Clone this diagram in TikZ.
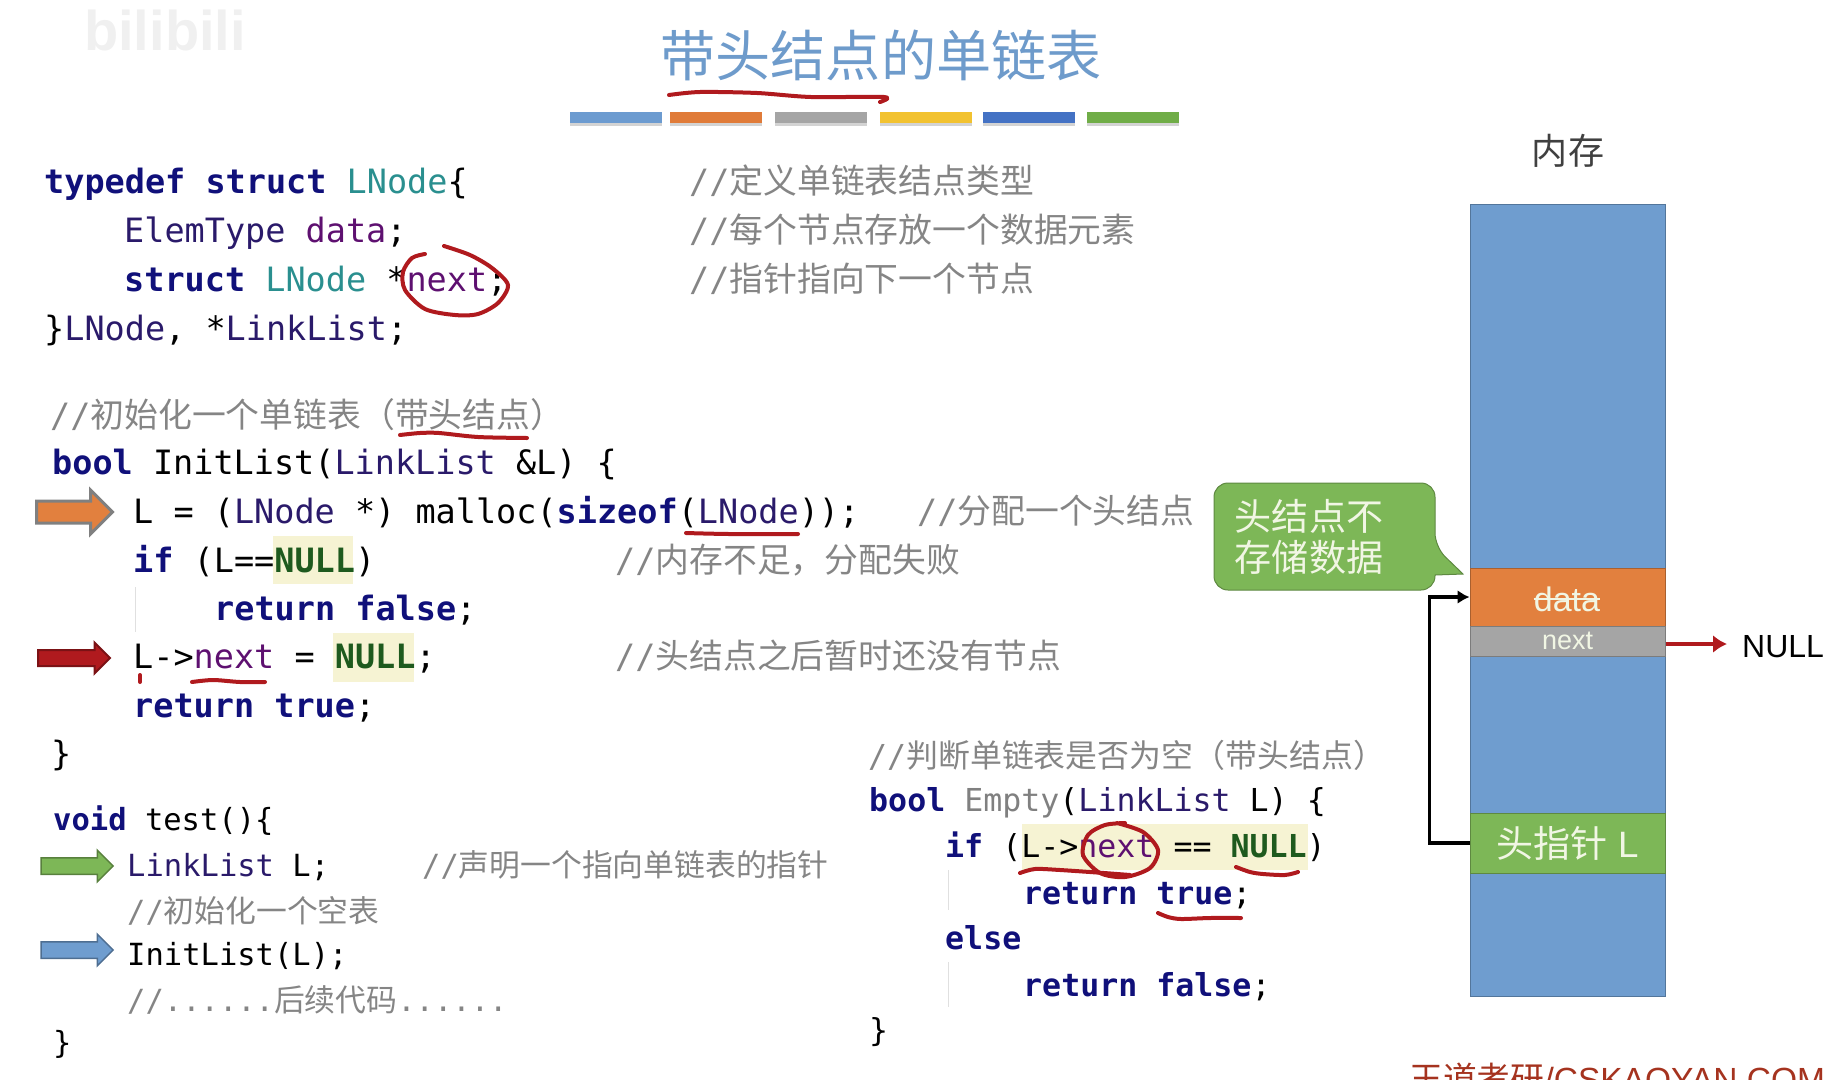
\documentclass[tikz,border=0pt]{standalone}
\usepackage{fontspec}
\setmainfont{Liberation Sans}
\setmonofont{DejaVu Sans Mono}
\newfontfamily\cjkfont[Scale=1.01]{Noto Sans CJK SC}
\usetikzlibrary{arrows.meta,shapes.arrows,shadows}
\definecolor{kwblue}{HTML}{10107A}
\definecolor{tyteal}{HTML}{2A8F8F}
\definecolor{typurple}{HTML}{2A1A6A}
\definecolor{fdpurple}{HTML}{5E1070}
\definecolor{nulgreen}{HTML}{1E5A1E}
\definecolor{cmtgray}{HTML}{858585}
\definecolor{hilite}{HTML}{F6F3D3}
\definecolor{pen}{HTML}{B01A1E}
\definecolor{membl}{HTML}{6F9DCF}
\definecolor{memor}{HTML}{E2803E}
\definecolor{memgr}{HTML}{A5A5A5}
\definecolor{memgn}{HTML}{7DB757}
\definecolor{cream}{HTML}{F1F6E4}
\newcommand{\kw}[1]{{\bfseries\color{kwblue}#1}}
\newcommand{\tyt}[1]{{\color{tyteal}#1}}
\newcommand{\typ}[1]{{\color{typurple}#1}}
\newcommand{\fd}[1]{{\color{fdpurple}#1}}
\newcommand{\nul}[1]{{\bfseries\color{nulgreen}#1}}
\newcommand{\cn}[1]{{\cjkfont #1}}
\newcommand{\codesz}{\fontsize{33.5}{40}\selectfont}
\newcommand{\midsz}{\fontsize{31.6}{38}\selectfont}
\newcommand{\smallsz}{\fontsize{30.5}{36}\selectfont}
\tikzset{
  codeline/.style={anchor=base west,inner sep=0pt,text=black,font=\codesz\ttfamily},
  midline/.style={codeline,font=\midsz\ttfamily},
  smallline/.style={codeline,font=\smallsz\ttfamily},
  cmt/.style={text=cmtgray},
  colorbar/.style={minimum width=92pt,minimum height=11pt,inner sep=0pt,
    drop shadow={shadow xshift=0pt,shadow yshift=-3pt,opacity=.35}},
  memcell/.style={draw=#1!75!black,line width=1pt,fill=#1,minimum width=195pt,inner sep=0pt,text=cream},
  blockarrow/.style={single arrow,inner xsep=0pt,inner ysep=7.5pt,line width=1.5pt,single arrow head extend=7.5pt,
    single arrow head indent=0pt,minimum height=72pt,minimum width=30pt},
  redpen/.style={draw=pen,line width=4pt,line cap=round,line join=round},
}
\begin{document}
\begin{tikzpicture}[x=1pt,y=-1pt]
\useasboundingbox (0,0) rectangle (1847,1079);

  \node[text=black!6,font=\fontsize{56}{56}\selectfont\bfseries] (mark) at (165,30) {bilibili};

  \node[text={rgb,255:red,110;green,155;blue,203},font=\fontsize{54.6}{70}\selectfont\cjkfont] (title) at (881,55) {带头结点的单链表};
  \draw[redpen] plot[smooth] coordinates {(669,95) (700,92) (757,93) (811,97) (884,97) (880,102)};

  \node[colorbar,fill={rgb,255:red,108;green,155;blue,208}] (bar1) at (616,117.5) {};
  \node[colorbar,fill={rgb,255:red,224;green,123;blue,57}] (bar2) at (716,117.5) {};
  \node[colorbar,fill={rgb,255:red,165;green,165;blue,165}] (bar3) at (821,117.5) {};
  \node[colorbar,fill={rgb,255:red,242;green,194;blue,48}] (bar4) at (926,117.5) {};
  \node[colorbar,fill={rgb,255:red,68;green,114;blue,196}] (bar5) at (1029,117.5) {};
  \node[colorbar,fill={rgb,255:red,112;green,173;blue,71}] (bar6) at (1133,117.5) {};

  % struct
  \node[codeline] (l1) at (44,193) {\kw{typedef struct} \tyt{LNode}\{};
  \node[codeline] (l2) at (124,242) {\typ{ElemType} \fd{data};};
  \node[codeline] (l3) at (124,291) {\kw{struct} \tyt{LNode} *\fd{next};};
  \node[codeline] (l4) at (44,340) {\}\typ{LNode}, *\typ{LinkList};};
  \node[codeline,cmt] (c1) at (689,193) {//\cn{定义单链表结点类型}};
  \node[codeline,cmt] (c2) at (689,242) {//\cn{每个节点存放一个数据元素}};
  \node[codeline,cmt] (c3) at (689,291) {//\cn{指针指向下一个节点}};
  \draw[redpen] plot[smooth] coordinates {(444,246) (470,255) (492,268) (508,285) (498,303) (478,314) (455,315) (425,309) (405,290) (403,272) (412,258) (425,254)};

  % InitList
  \fill[hilite] (273,536) rectangle (353,584);
  \fill[hilite] (333,633) rectangle (414,682);
  \node[codeline,cmt] (c4) at (50,427) {//\cn{初始化一个单链表（带头结点）}};
  \node[codeline] (l5) at (52,474) {\kw{bool} InitList(\typ{LinkList} \&L) \{};
  \node[codeline] (l6) at (133,523) {L = (\typ{LNode} *) malloc(\kw{sizeof}(\typ{LNode}));};
  \node[codeline,cmt] (c5) at (917,523) {//\cn{分配一个头结点}};
  \node[codeline] (l7) at (133,572) {\kw{if} (L==\nul{NULL})};
  \node[codeline,cmt] (c6) at (615,572) {//\cn{内存不足，分配失败}};
  \node[codeline] (l8) at (214,620) {\kw{return false};};
  \node[codeline] (l9) at (133,668) {L->\fd{next} = \nul{NULL};};
  \node[codeline,cmt] (c7) at (615,668) {//\cn{头结点之后暂时还没有节点}};
  \node[codeline] (l10) at (133,717) {\kw{return true};};
  \node[codeline] (l11) at (51,765) {\}};
  \draw[black!12,line width=1pt] (135,587) -- (135,632);
  \draw[redpen] plot[smooth] coordinates {(400,435) (420,433) (439,433) (478,437) (527,438)};
  \draw[redpen] plot[smooth] coordinates {(686,533) (729,534) (798,534)};
  \draw[redpen] plot[smooth] coordinates {(192,682) (213,680) (240,682) (265,682)};
  \draw[redpen] (140,675) -- (140,682);

  \node[blockarrow,inner ysep=9.5pt,single arrow head extend=11pt,minimum width=41pt,minimum height=76pt,line width=3pt,fill=memor,draw=black!50] (arr1) at (69,512) {};
  \node[blockarrow,inner ysep=7pt,line width=2pt,fill=pen,draw=pen!70!black] (arr2) at (70,658) {};

  % test
  \node[smallline] (l12) at (53,830) {\kw{void} test()\{};
  \node[smallline] (l13) at (127,876) {\typ{LinkList} L;};
  \node[smallline,cmt] (c8) at (422,876) {//\cn{声明一个指向单链表的指针}};
  \node[smallline,cmt] (c9) at (127,922) {//\cn{初始化一个空表}};
  \node[smallline] (l14) at (127,965) {InitList(L);};
  \node[smallline,cmt] (c10) at (127,1011) {//......\cn{后续代码}......};
  \node[smallline] (l15) at (53,1053) {\}};
  \node[blockarrow,fill=memgn,draw=memgn!70!black] (arr3) at (73,866) {};
  \node[blockarrow,fill=membl,draw=membl!70!black] (arr4) at (73,950) {};

  % Empty
  \fill[hilite] (1022,824) rectangle (1308,870);
  \node[midline,cmt] (c11) at (868,767) {//\cn{判断单链表是否为空（带头结点）}};
  \node[midline] (l16) at (869,811) {\kw{bool} {\color{black!50}Empty}(\typ{LinkList} L) \{};
  \node[midline] (l17) at (945,857) {\kw{if} (L->\fd{next} == \nul{NULL})};
  \node[midline] (l18) at (1023,904) {\kw{return true};};
  \node[midline] (l19) at (945,949) {\kw{else}};
  \node[midline] (l20) at (1023,996) {\kw{return false};};
  \node[midline] (l21) at (869,1041) {\}};
  \draw[black!12,line width=1pt] (948,870) -- (948,910);
  \draw[black!12,line width=1pt] (948,962) -- (948,1007);
  \draw[redpen] plot[smooth] coordinates {(1117,823) (1143,832) (1158,850) (1150,868) (1125,877) (1100,873) (1083,855) (1088,835) (1105,825) (1125,823)};
  \draw[redpen] plot[smooth] coordinates {(1020,873) (1035,869) (1060,870) (1104,873) (1130,875)};
  \draw[redpen] plot[smooth] coordinates {(1236,867) (1250,872) (1263,874) (1285,875) (1298,872)};
  \draw[redpen] plot[smooth] coordinates {(1158,913) (1168,917) (1181,919) (1210,918) (1241,918)};

  % memory
  \node[text=black!75,font=\fontsize{35.7}{40}\selectfont\cjkfont] (memlabel) at (1568,151) {内存};
  \node[memcell=membl,minimum height=792pt] (mem) at (1567.5,600) {};
  \node[memcell=memor,minimum height=58pt] (datacell) at (1567.5,597) {};
  \node[inner sep=0pt,text=cream,font=\fontsize{34}{36}\selectfont] (datatxt) at (1567,599) {data};
  \draw[cream,line width=2pt] (datatxt.west) -- (datatxt.east);
  \node[memcell=memgr,minimum height=30pt,font=\fontsize{27}{30}\selectfont] (nextcell) at (1567.5,641) {next};
  \node[memcell=memgn,minimum height=60pt,font=\fontsize{36.7}{40}\selectfont] (headptr) at (1567.5,843) {\cn{头指针} L};
  \node[anchor=base west,inner sep=0pt,text=black,font=\fontsize{32}{36}\selectfont] (nullnode) at (1742,657) {NULL};
  \coordinate (nullend) at (1727,644);
  \draw[pen,line width=4pt,-{Latex[length=14pt,width=18pt]}] (nextcell.east |- nullend) -- (nullend);
  \draw[black,line width=3.5pt,-{Latex[length=12pt,width=14pt]}] (headptr.west) -- ++(-40,0) |- (datacell.west);

  \draw[fill=memgn,draw=memgn!75!black,line width=1pt,rounded corners=14pt] (1214,536) -- (1214,483) -- (1435,483) -- (1435,547) [sharp corners] -- (1463,574) -- (1435,575) [rounded corners=14pt] -- (1435,590) -- (1214,590) -- cycle;
  \node[text=cream,align=left,inner sep=0pt,font=\fontsize{36.7}{41}\selectfont\cjkfont] (tip) at (1309,537) {头结点不\\存储数据};

  \node[anchor=base west,inner sep=0pt,text={rgb,255:red,165;green,51;blue,31},font=\fontsize{33.5}{36}\selectfont] (site) at (1409,1091) {\cn{王道考研}/CSKAOYAN.COM};
\end{tikzpicture}
\end{document}
